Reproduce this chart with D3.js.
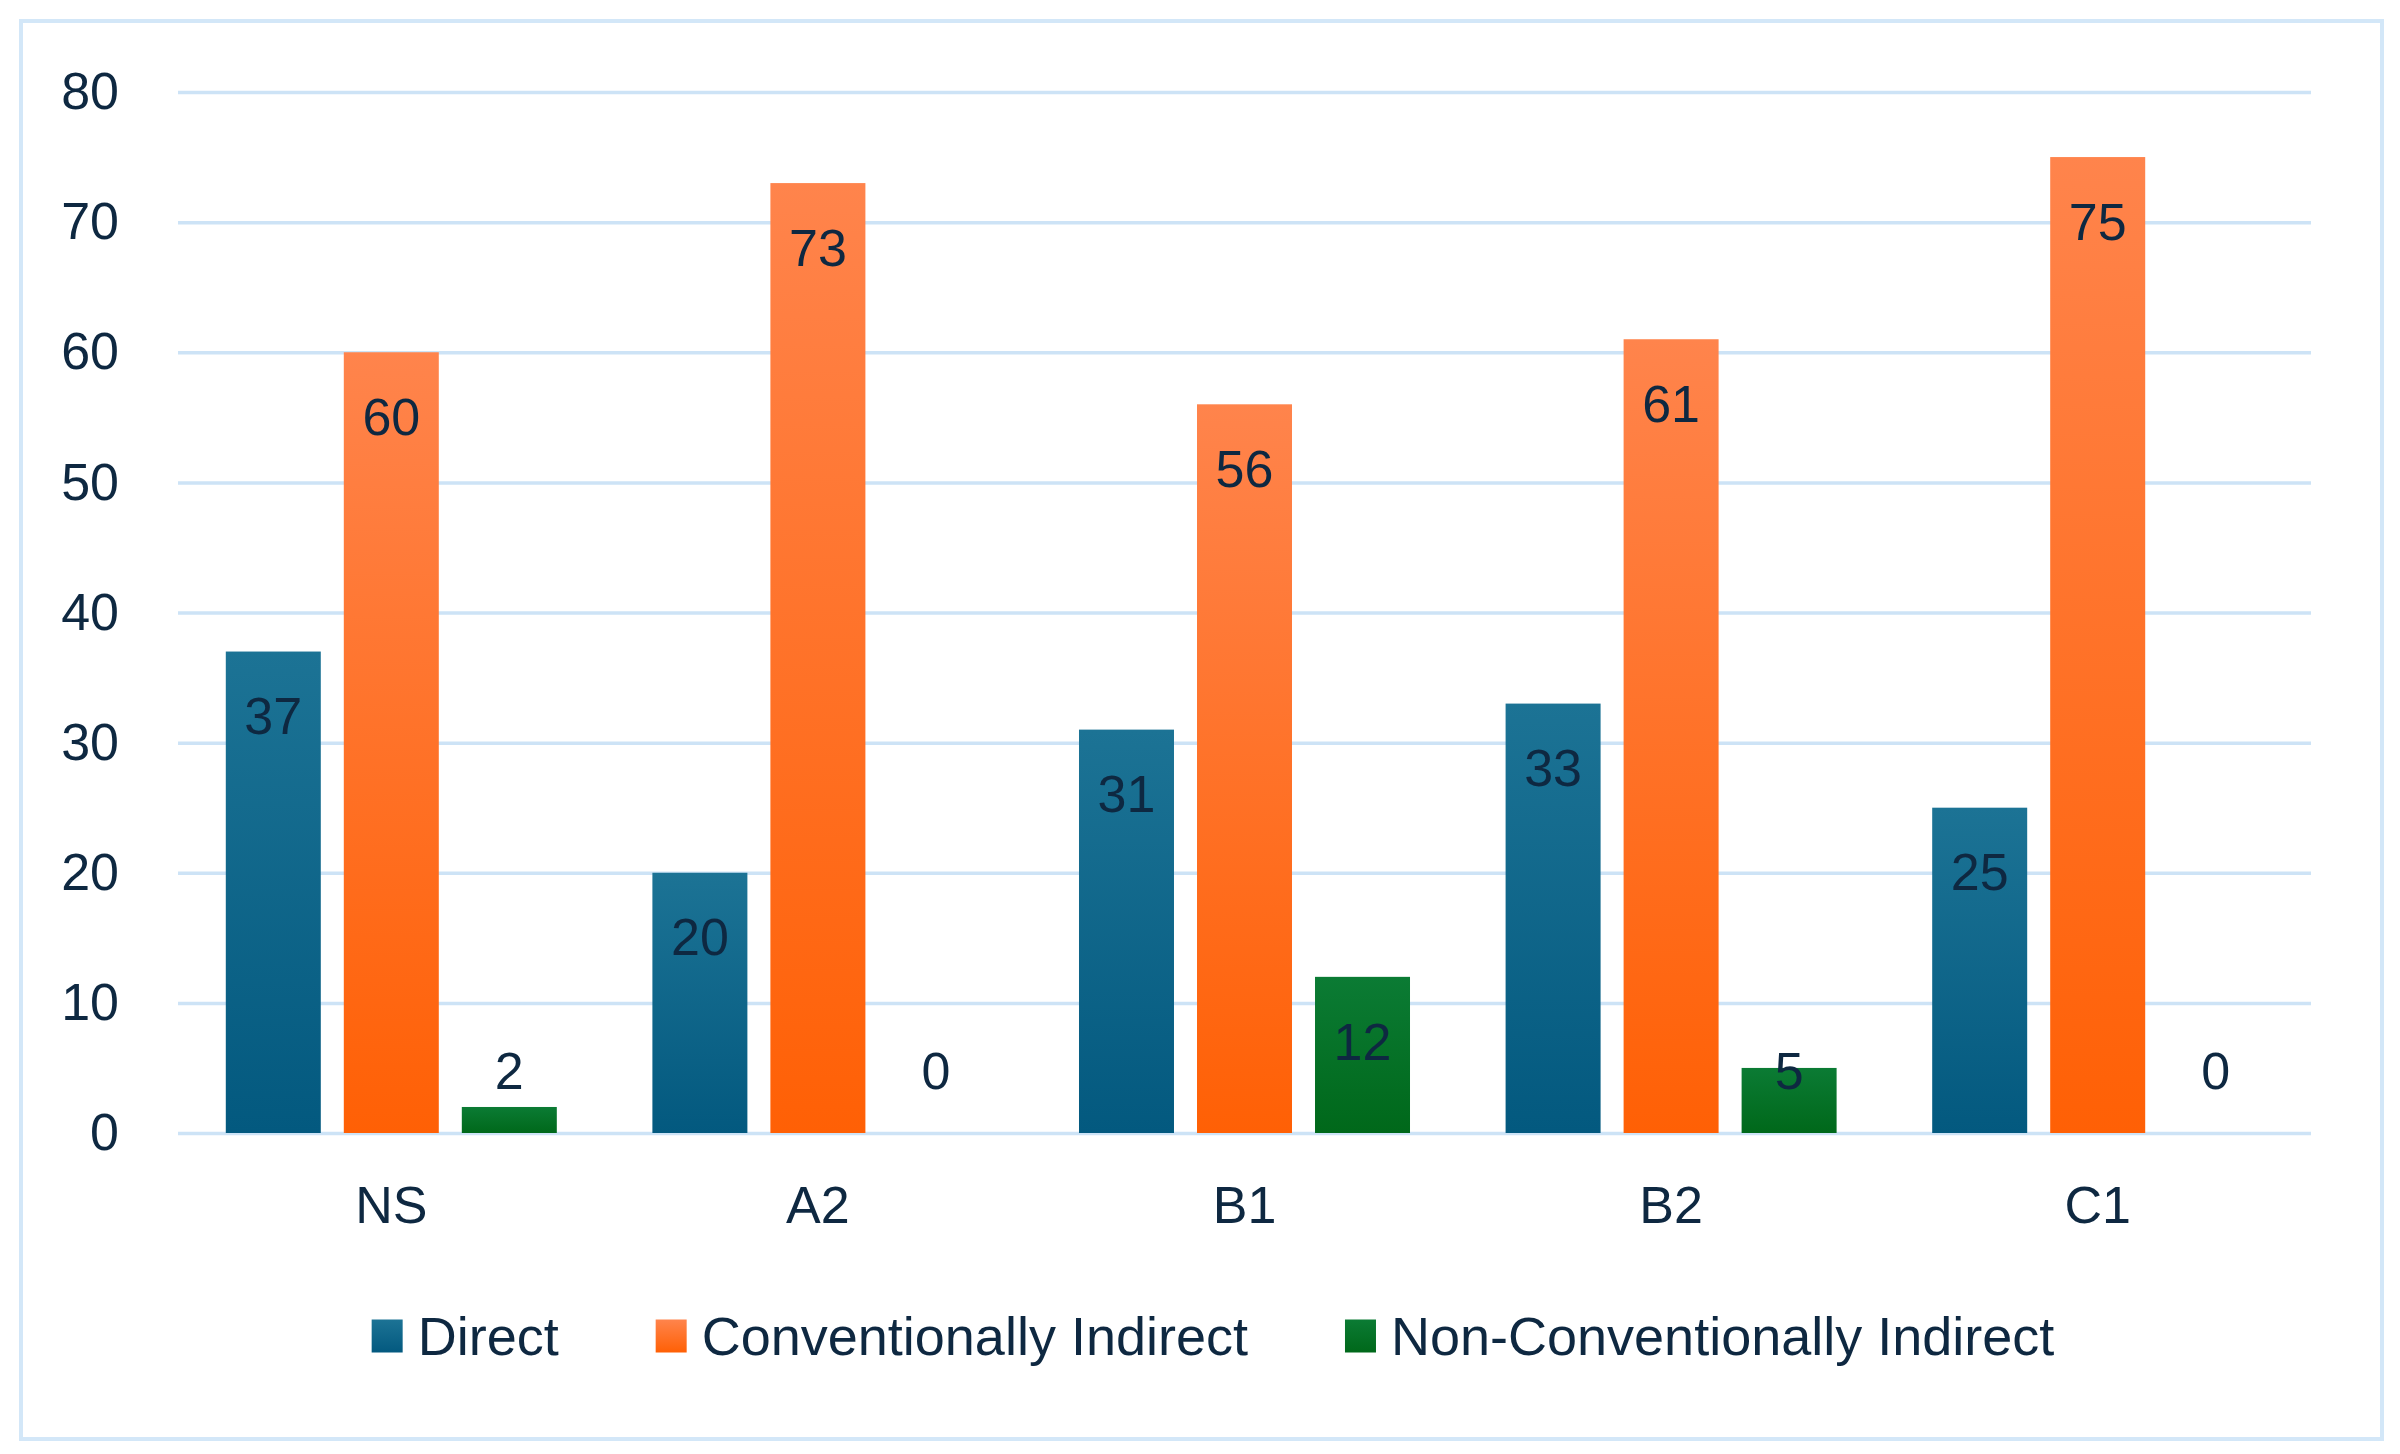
<!DOCTYPE html>
<html><head><meta charset="utf-8">
<script src="https://cdn.jsdelivr.net/npm/d3@7"></script>
<style>html,body{margin:0;padding:0;background:#fff}svg{display:block}</style>
</head><body>
<svg id="chart" width="2400" height="1454"></svg>
<script>
const categories = ["NS", "A2", "B1", "B2", "C1"];
const seriesNames = ["Direct", "Conventionally Indirect", "Non-Conventionally Indirect"];
const direct = [37, 20, 31, 33, 25];
const conventionallyIndirect = [60, 73, 56, 61, 75];
const nonConventionallyIndirect = [2, 0, 12, 5, 0];
const yTicks = [0, 10, 20, 30, 40, 50, 60, 70, 80];

const seriesValues = [direct, conventionallyIndirect, nonConventionallyIndirect];
const gradTop = ["#1c7395", "#ff844c", "#0b7b34"];
const gradBot = ["#03597f", "#ff6005", "#00681a"];
const legendSwatch = ["#0b6388", "#ff7433", "#037228"];
const textColor = "#0e2841";
const font = "'Liberation Sans', Arial, sans-serif";

const svg = d3.select("#chart");
const W = 2400, H = 1454;
svg.append("rect").attr("x", 0).attr("y", 0).attr("width", W).attr("height", H).attr("fill", "#fff");
svg.append("rect").attr("x", 21).attr("y", 21).attr("width", 2361).attr("height", 1418)
  .attr("fill", "#fff").attr("stroke", "#d3e7f8").attr("stroke-width", 4);

const defs = svg.append("defs");
seriesNames.forEach((s, i) => {
  const g = defs.append("linearGradient").attr("id", "g" + i)
    .attr("x1", 0).attr("y1", 0).attr("x2", 0).attr("y2", 1);
  g.append("stop").attr("offset", "0%").attr("stop-color", gradTop[i]);
  g.append("stop").attr("offset", "100%").attr("stop-color", gradBot[i]);
});

const plotL = 178, plotR = 2311, plotT = 92, plotB = 1133;
const y = d3.scaleLinear().domain([0, 80]).range([plotB, plotT]);
const x0 = d3.scaleBand().domain(categories).range([plotL, plotR]).padding(0);
const x1 = d3.scaleBand().domain(seriesNames).range([0, x0.bandwidth()])
  .paddingInner(0.195).paddingOuter(0.405);

// gridlines
const yAxis = d3.axisLeft(y).tickValues(yTicks).tickSize(-(plotR - plotL)).tickFormat(d3.format("d")).tickPadding(59);
const ga = svg.append("g").attr("transform", `translate(${plotL},0)`).call(yAxis);
ga.select(".domain").remove();
ga.selectAll(".tick line").attr("stroke", "#cde3f6").attr("stroke-width", 3.5);
ga.selectAll(".tick text").attr("fill", textColor).attr("font-family", font).attr("font-size", 52);

// bars
const groups = svg.append("g").selectAll("g").data(categories).join("g")
  .attr("transform", d => `translate(${x0(d)},0)`);
groups.each(function(cat, ci) {
  const g = d3.select(this);
  seriesNames.forEach((s, si) => {
    const v = seriesValues[si][ci];
    if (v > 0) {
      g.append("rect").attr("x", x1(s)).attr("y", y(v)).attr("width", x1.bandwidth())
        .attr("height", y(0) - y(v)).attr("fill", `url(#g${si})`);
    }
    const ly = Math.min(y(v) + 64, y(0) - 63);
    g.append("text").attr("x", x1(s) + x1.bandwidth() / 2).attr("y", ly)
      .attr("dy", "0.36em").attr("text-anchor", "middle")
      .attr("fill", textColor).attr("font-family", font).attr("font-size", 52).text(v);
  });
});

// x axis labels
const xAxis = d3.axisBottom(x0).tickSize(0).tickPadding(0);
const gx = svg.append("g").attr("transform", `translate(0,${plotB})`).call(xAxis);
gx.select(".domain").remove();
gx.selectAll(".tick text").attr("fill", textColor).attr("font-family", font).attr("font-size", 52)
  .attr("dy", null).attr("y", 76).attr("dominant-baseline", "middle");

// legend
const legend = svg.append("g");
const legendY = 1336;
const sw = 31, sh = 33, gapSwatch = 15, gapItem = 97;
const items = legend.selectAll("g").data(seriesNames).join("g");
items.append("rect").attr("x", 0).attr("y", legendY - sh / 2).attr("width", sw).attr("height", sh)
  .attr("fill", (d, i) => `url(#g${i})`);
items.append("text").attr("x", sw + gapSwatch).attr("y", legendY).attr("dy", "0.36em")
  .attr("fill", textColor).attr("font-family", font).attr("font-size", 54).text(d => d);
let widths = [];
items.each(function() { widths.push(this.getBBox().width); });
const total = d3.sum(widths) + gapItem * (widths.length - 1);
let cx = 1213 - total / 2;
items.each(function(d, i) {
  d3.select(this).attr("transform", `translate(${cx},0)`);
  cx += widths[i] + gapItem;
});
</script>
</body></html>
